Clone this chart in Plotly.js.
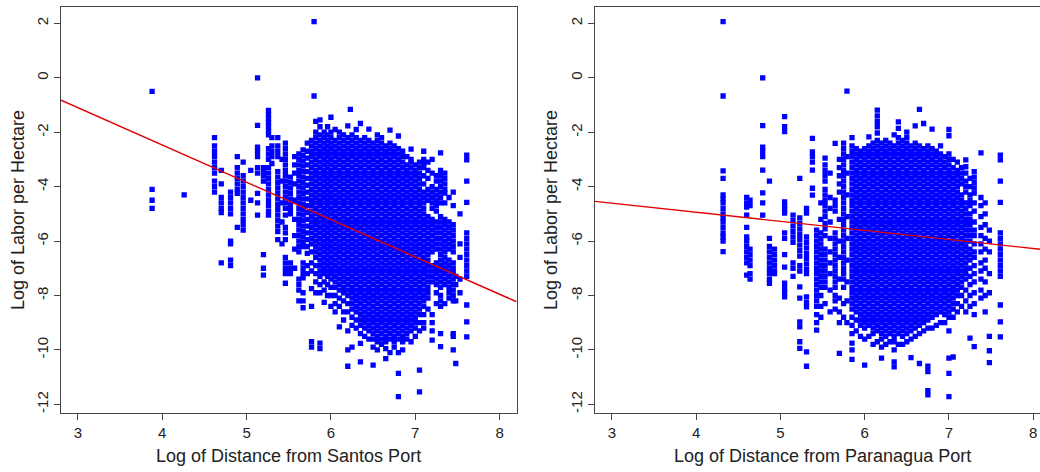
<!DOCTYPE html>
<html>
<head>
<meta charset="utf-8">
<script src="https://cdn.plot.ly/plotly-3.0.1.min.js"></script>
<style>
  html, body { margin: 0; padding: 0; background: #ffffff; }
  #chart { width: 1040px; height: 472px; }
</style>
</head>
<body>
<div id="chart"></div>
<script>
// ---------- DATA ----------
// Log of distance from Santos port: one value per vertical stripe of points
const santosDist = [3.88, 4.26, 4.62, 4.70, 4.81, 4.89, 4.96, 5.05, 5.13, 5.20, 5.26, 5.30, 5.37, 5.42, 5.46, 5.52,
  5.57, 5.62, 5.67, 5.72, 5.77, 5.80, 5.82, 5.87, 5.92, 5.96,
  6.00, 6.05, 6.10, 6.15, 6.20, 6.23, 6.25, 6.30, 6.35, 6.40, 6.45, 6.50, 6.55, 6.60, 6.65, 6.70, 6.75, 6.80, 6.85, 6.90, 6.95, 7.00, 7.05,
  7.10, 7.15, 7.20, 7.25, 7.30, 7.35, 7.40, 7.45, 7.48, 7.53, 7.61];
// Log of labor per hectare for each stripe above
const santosLabor = [
  [-0.5,-4.1,-4.5,-4.8],
  [-4.3],
  [-2.2,-2.5,-2.7,-2.9,-3.1,-3.3,-3.5,-3.8,-4,-4.2],
  [-3.4,-3.9,-4.4,-4.6,-4.8,-4.95,-6.8],
  [-4.2,-4.4,-4.6,-4.8,-5,-6,-6.1,-6.7,-6.9],
  [-2.9,-3.3,-3.5,-3.7,-3.9,-4.1,-4.25,-5.5],
  [-3.1,-3.6,-3.8,-4,-4.2,-4.4,-4.6,-4.8,-5,-5.2,-5.4,-5.6],
  [-3.4,-4.5],
  [0,-1.75,-2.55,-2.7,-2.9,-3.3,-3.5,-4.25,-4.6,-5.05],
  [-3.3,-3.45,-3.6,-3.8,-6.5,-7,-7.25],
  [-1.2,-1.35,-1.5,-1.65,-1.8,-1.95,-2.1,-2.6,-2.8,-3,-3.3,-3.5,-3.7,-3.9,-4.1,-4.3,-4.5,-4.7,-4.9,-5.05],
  [-2.2,-2.5,-2.7,-2.9,-3.15],
  [-2.2,-2.5,-2.7,-2.9,-3.45,-3.65,-3.85,-4.05,-4.25,-4.45,-4.65,-4.85,-5.05,-5.25,-5.45,-5.65,-5.95],
  [-3,-3.8,-4.6,-5.3,-6.1],
  [-2.4,-2.6,-2.8,-3,-3.2,-3.4,-3.6,-3.8,-4,-4.2,-4.4,-4.6,-4.8,-5.05,-5.5,-5.7,-5.95,-6.6,-6.8,-7,-7.2,-7.55],
  [-3.65,-3.85,-4.05,-4.25,-4.45,-4.65,-4.85,-5,-6.8,-7,-7.2],
  [-2.9,-3.2,-3.5,-3.9,-4.5,-5.2,-5.8,-6.3,-7],
  [-2.8,-3,-3.2,-3.4,-3.6,-3.8,-4,-4.2,-4.4,-4.6,-4.8,-5,-5.2,-5.4,-5.6,-5.8,-6,-6.2,-6.4,-7.4,-7.6,-7.8,-8.2],
  [-2.65,-2.85,-3.05,-3.25,-3.45,-3.65,-3.85,-4.05,-4.25,-4.45,-4.65,-4.85,-5.05,-5.25,-5.45,-5.65,-5.85,-6.05,-6.2,-6.8,-7,-7.2,-7.35,-7.9,-8.2,-8.45],
  [-2.4,-2.7,-2.95,-3.2,-3.45,-3.7,-3.95,-4.2,-4.45,-4.7,-4.95,-5.2,-5.45,-5.7,-5.95,-6.2,-6.45,-6.9,-7.2],
  [-2.3,-2.5,-2.7,-2.9,-3.1,-3.3,-3.5,-3.7,-3.9,-4.1,-4.3,-4.5,-4.7,-4.9,-5.1,-5.3,-5.5,-5.7,-5.9,-6.1,-6.4,-6.8,-7.1,-7.75,-8.4,-9.7,-9.9],
  [2.06,-0.67],
  [-1.6,-2,-2.2,-2.4,-2.6,-2.8,-3,-3.2,-3.4,-3.6,-3.8,-4,-4.2,-4.4,-4.6,-4.8,-5,-5.2,-5.4,-5.6,-5.8,-6,-6.2,-6.4,-6.6,-6.9,-7.2,-7.5,-7.9],
  [-1.55,-1.8,-2.1,-2.3,-2.5,-2.7,-2.9,-3.1,-3.3,-3.5,-3.7,-3.9,-4.1,-4.3,-4.5,-4.7,-4.9,-5.1,-5.3,-5.5,-5.7,-5.9,-6.1,-6.3,-6.5,-6.7,-6.9,-7.1,-7.3,-7.6,-7.9,-9.75,-9.95],
  [-2,-2.2,-2.4,-2.6,-2.8,-3,-3.2,-3.4,-3.6,-3.8,-4,-4.2,-4.4,-4.6,-4.8,-5,-5.2,-5.4,-5.6,-5.8,-6,-6.2,-6.4,-6.6,-6.8,-7,-7.2,-7.5,-7.8,-8.25],
  [-1.8,-2.1,-2.3,-2.5,-2.7,-2.9,-3.1,-3.3,-3.5,-3.7,-3.9,-4.1,-4.3,-4.5,-4.7,-4.9,-5.1,-5.3,-5.5,-5.7,-5.9,-6.1,-6.3,-6.5,-6.7,-6.9,-7.1,-7.3,-7.6,-8],
  [-1.45,-2,-2.2,-2.4,-2.6,-2.8,-3,-3.2,-3.4,-3.6,-3.8,-4,-4.2,-4.4,-4.6,-4.8,-5,-5.2,-5.4,-5.6,-5.8,-6,-6.2,-6.4,-6.6,-6.8,-7,-7.2,-7.4,-7.7,-8,-8.4],
  [-1.9,-2.3,-2.5,-2.7,-2.9,-3.1,-3.3,-3.5,-3.7,-3.9,-4.1,-4.3,-4.5,-4.7,-4.9,-5.1,-5.3,-5.5,-5.7,-5.9,-6.1,-6.3,-6.5,-6.7,-6.9,-7.1,-7.3,-7.5,-7.7,-8,-8.3,-8.6],
  [-2,-2.2,-2.4,-2.6,-2.8,-3,-3.2,-3.4,-3.6,-3.8,-4,-4.2,-4.4,-4.6,-4.8,-5,-5.2,-5.4,-5.6,-5.8,-6,-6.2,-6.4,-6.6,-6.8,-7,-7.2,-7.4,-7.6,-7.8,-8.1,-8.4,-9.15],
  [-2.1,-2.3,-2.5,-2.7,-2.9,-3.1,-3.3,-3.5,-3.7,-3.9,-4.1,-4.3,-4.5,-4.7,-4.9,-5.1,-5.3,-5.5,-5.7,-5.9,-6.1,-6.3,-6.5,-6.7,-6.9,-7.1,-7.3,-7.5,-7.7,-7.9,-8.2,-8.6,-8.9],
  [-1.77,-2.2,-2.4,-2.6,-2.8,-3,-3.2,-3.4,-3.6,-3.8,-4,-4.2,-4.4,-4.6,-4.8,-5,-5.2,-5.4,-5.6,-5.8,-6,-6.2,-6.4,-6.6,-6.8,-7,-7.2,-7.4,-7.6,-7.8,-8,-8.3,-8.6,-9.3,-10,-10.6],
  [-1.16],
  [-2.1,-2.3,-2.5,-2.7,-2.9,-3.1,-3.3,-3.5,-3.7,-3.9,-4.1,-4.3,-4.5,-4.7,-4.9,-5.1,-5.3,-5.5,-5.7,-5.9,-6.1,-6.3,-6.5,-6.7,-6.9,-7.1,-7.3,-7.5,-7.7,-7.9,-8.1,-8.3,-8.5,-8.8,-9.1,-9.9],
  [-1.9,-2.2,-2.4,-2.6,-2.8,-3,-3.2,-3.4,-3.6,-3.8,-4,-4.2,-4.4,-4.6,-4.8,-5,-5.2,-5.4,-5.6,-5.8,-6,-6.2,-6.4,-6.6,-6.8,-7,-7.2,-7.4,-7.6,-7.8,-8,-8.2,-8.4,-8.6,-8.9,-9.2],
  [-1.68,-2.3,-2.5,-2.7,-2.9,-3.1,-3.3,-3.5,-3.7,-3.9,-4.1,-4.3,-4.5,-4.7,-4.9,-5.1,-5.3,-5.5,-5.7,-5.9,-6.1,-6.3,-6.5,-6.7,-6.9,-7.1,-7.3,-7.5,-7.7,-7.9,-8.1,-8.3,-8.5,-8.7,-8.9,-9.1,-9.4,-9.76,-10.44],
  [-2.2,-2.4,-2.6,-2.8,-3,-3.2,-3.4,-3.6,-3.8,-4,-4.2,-4.4,-4.6,-4.8,-5,-5.2,-5.4,-5.6,-5.8,-6,-6.2,-6.4,-6.6,-6.8,-7,-7.2,-7.4,-7.6,-7.8,-8,-8.2,-8.4,-8.6,-8.8,-9,-9.2,-9.5],
  [-1.89,-2.3,-2.5,-2.7,-2.9,-3.1,-3.3,-3.5,-3.7,-3.9,-4.1,-4.3,-4.5,-4.7,-4.9,-5.1,-5.3,-5.5,-5.7,-5.9,-6.1,-6.3,-6.5,-6.7,-6.9,-7.1,-7.3,-7.5,-7.7,-7.9,-8.1,-8.3,-8.5,-8.7,-8.9,-9.1,-9.3,-9.6],
  [-2.4,-2.6,-2.8,-3,-3.2,-3.4,-3.6,-3.8,-4,-4.2,-4.4,-4.6,-4.8,-5,-5.2,-5.4,-5.6,-5.8,-6,-6.2,-6.4,-6.6,-6.8,-7,-7.2,-7.4,-7.6,-7.8,-8,-8.2,-8.4,-8.6,-8.8,-9,-9.2,-9.4,-9.6,-9.9,-10.56],
  [-2.1,-2.3,-2.5,-2.7,-2.9,-3.1,-3.3,-3.5,-3.7,-3.9,-4.1,-4.3,-4.5,-4.7,-4.9,-5.1,-5.3,-5.5,-5.7,-5.9,-6.1,-6.3,-6.5,-6.7,-6.9,-7.1,-7.3,-7.5,-7.7,-7.9,-8.1,-8.3,-8.5,-8.7,-8.9,-9.1,-9.3,-9.5,-9.7,-10],
  [-2.2,-2.4,-2.6,-2.8,-3,-3.2,-3.4,-3.6,-3.8,-4,-4.2,-4.4,-4.6,-4.8,-5,-5.2,-5.4,-5.6,-5.8,-6,-6.2,-6.4,-6.6,-6.8,-7,-7.2,-7.4,-7.6,-7.8,-8,-8.2,-8.4,-8.6,-8.8,-9,-9.2,-9.4,-9.6,-9.8],
  [-2.5,-2.7,-2.9,-3.1,-3.3,-3.5,-3.7,-3.9,-4.1,-4.3,-4.5,-4.7,-4.9,-5.1,-5.3,-5.5,-5.7,-5.9,-6.1,-6.3,-6.5,-6.7,-6.9,-7.1,-7.3,-7.5,-7.7,-7.9,-8.1,-8.3,-8.5,-8.7,-8.9,-9.1,-9.3,-9.5,-9.7,-9.95,-10.32],
  [-1.92,-2.4,-2.6,-2.8,-3,-3.2,-3.4,-3.6,-3.8,-4,-4.2,-4.4,-4.6,-4.8,-5,-5.2,-5.4,-5.6,-5.8,-6,-6.2,-6.4,-6.6,-6.8,-7,-7.2,-7.4,-7.6,-7.8,-8,-8.2,-8.4,-8.6,-8.8,-9,-9.2,-9.4,-9.6,-10.1],
  [-2.5,-2.7,-2.9,-3.1,-3.3,-3.5,-3.7,-3.9,-4.1,-4.3,-4.5,-4.7,-4.9,-5.1,-5.3,-5.5,-5.7,-5.9,-6.1,-6.3,-6.5,-6.7,-6.9,-7.1,-7.3,-7.5,-7.7,-7.9,-8.1,-8.3,-8.5,-8.7,-8.9,-9.1,-9.3,-9.5,-9.7,-9.9],
  [-2.14,-2.6,-2.8,-3,-3.2,-3.4,-3.6,-3.8,-4,-4.2,-4.4,-4.6,-4.8,-5,-5.2,-5.4,-5.6,-5.8,-6,-6.2,-6.4,-6.6,-6.8,-7,-7.2,-7.4,-7.6,-7.8,-8,-8.2,-8.4,-8.6,-8.8,-9,-9.2,-9.4,-9.6,-10.1,-10.86,-11.72],
  [-2.7,-2.9,-3.1,-3.3,-3.5,-3.7,-3.9,-4.1,-4.3,-4.5,-4.7,-4.9,-5.1,-5.3,-5.5,-5.7,-5.9,-6.1,-6.3,-6.5,-6.7,-6.9,-7.1,-7.3,-7.5,-7.7,-7.9,-8.1,-8.3,-8.5,-8.7,-8.9,-9.1,-9.3,-9.5,-9.7,-10],
  [-2.9,-3.2,-3.4,-3.6,-3.8,-4,-4.2,-4.4,-4.6,-4.8,-5,-5.2,-5.4,-5.6,-5.8,-6,-6.2,-6.4,-6.6,-6.8,-7,-7.2,-7.4,-7.6,-7.8,-8,-8.2,-8.4,-8.6,-8.8,-9,-9.2,-9.4,-9.6],
  [-2.62,-3,-3.1,-3.3,-3.5,-3.7,-3.9,-4.1,-4.3,-4.5,-4.7,-4.9,-5.1,-5.3,-5.5,-5.7,-5.9,-6.1,-6.3,-6.5,-6.7,-6.9,-7.1,-7.3,-7.5,-7.7,-7.9,-8.1,-8.3,-8.5,-8.7,-8.9,-9.1,-9.3,-9.7],
  [-3.2,-3.4,-3.6,-3.8,-4,-4.2,-4.4,-4.6,-4.8,-5,-5.2,-5.4,-5.6,-5.8,-6,-6.2,-6.4,-6.6,-6.8,-7,-7.2,-7.4,-7.6,-7.8,-8,-8.2,-8.4,-8.6,-8.8,-9,-9.2,-9.5],
  [-3.1,-3.3,-3.5,-3.7,-3.9,-4.1,-4.3,-4.5,-4.7,-4.9,-5.1,-5.3,-5.5,-5.7,-5.9,-6.1,-6.3,-6.5,-6.7,-6.9,-7.1,-7.3,-7.5,-7.7,-7.9,-8.1,-8.3,-8.5,-8.7,-9,-9.3,-10.74,-11.54],
  [-2.7,-3,-3.15,-3.3,-3.6,-3.9,-4.2,-4.4,-4.6,-4.8,-5,-5.2,-5.4,-5.6,-5.8,-6,-6.2,-6.4,-6.6,-6.8,-7,-7.2,-7.4,-7.6,-7.8,-8,-8.2,-8.4,-8.7,-9,-9.2],
  [-3.1,-3.4,-3.7,-4.1,-4.3,-4.5,-5.1,-5.3,-5.5,-5.7,-5.9,-6.1,-6.3,-6.5,-6.7,-6.9,-7.1,-7.3,-7.5,-7.7,-7.9,-8.1,-8.5],
  [-3,-3.5,-4,-4.2,-4.4,-4.6,-4.8,-5.2,-5.4,-5.6,-5.8,-6,-6.2,-6.4,-6.9,-7.1,-7.3,-7.5,-8.7,-9,-9.3,-9.64],
  [-3.6,-3.8,-4.1,-4.3,-4.5,-4.7,-4.9,-5.3,-5.5,-5.7,-5.9,-6.1,-6.3,-6.8,-7,-7.2,-7.4,-7.6,-7.9,-8.3],
  [-2.76,-3.4,-3.6,-3.8,-4,-4.2,-4.4,-4.6,-5.1,-5.3,-5.5,-5.7,-5.9,-6.1,-6.3,-6.5,-6.7,-6.9,-7.1,-7.3,-7.5,-7.7,-8,-8.2,-8.4,-9.4,-9.88],
  [-3.5,-3.7,-3.9,-4.1,-4.24,-4.6,-5.2,-5.4,-5.6,-5.8,-6,-6.2,-6.4,-6.6,-6.8,-7,-7.2,-7.4,-7.6,-8.3],
  [-4.4,-5.3,-5.5,-5.7,-5.9,-6.1,-6.3,-6.7,-6.9,-7.1,-7.3,-7.5,-7.7,-7.9,-8.1],
  [-4.2,-4.7,-5.4,-5.6,-5.8,-6,-6.2,-6.4,-6.8,-7,-7.2,-7.4,-7.6,-7.8,-8,-8.2,-9.4,-9.5,-10],
  [-7.3,-7.6,-8.2,-10.5],
  [-5,-6.1,-6.6,-7.4,-7.9],
  [-2.84,-3.02,-3.8,-4.58,-5.7,-5.9,-6.1,-6.3,-6.5,-6.7,-6.9,-7.1,-7.3,-8.35,-8.97,-9.52]
];

// Log of distance from Paranagua port: one value per vertical stripe of points
const paranaguaDist = [4.32, 4.60, 4.64, 4.79, 4.87, 4.93, 5.05, 5.15, 5.23, 5.31, 5.38, 5.43, 5.48, 5.53, 5.59, 5.65, 5.70, 5.75, 5.79,
  5.85, 5.90, 5.95, 6.00, 6.05, 6.10, 6.15, 6.20, 6.25, 6.30, 6.35, 6.40, 6.45, 6.50, 6.55, 6.60, 6.65, 6.70, 6.75, 6.80, 6.85, 6.90, 6.95, 7.00,
  7.05, 7.10, 7.15, 7.20, 7.25, 7.30, 7.38, 7.43, 7.48, 7.61];
// Log of labor per hectare for each stripe above
const paranaguaLabor = [
  [2.06,-0.67,-3.42,-3.7,-4.3,-4.45,-4.6,-4.8,-5,-5.15,-5.3,-5.5,-5.7,-5.85,-6,-6.39],
  [-4.4,-4.6,-4.75,-5.05,-5.5,-5.85,-6,-6.2,-6.4,-6.6,-6.8,-7.25],
  [-4.5,-4.7,-6.3,-6.5,-6.7,-6.9,-7.2,-7.4],
  [0,-1.76,-2.55,-2.7,-2.9,-3.39,-4.23,-4.6,-5.05],
  [-3.8,-5.9,-6.2,-6.4,-6.6,-6.8,-7,-7.2,-7.4,-7.55],
  [-6.3,-6.5,-6.7,-6.9,-7.1,-7.2],
  [-1.43,-1.8,-1.98,-4.56,-4.7,-4.85,-4.97,-5.7,-5.9,-6.5,-6.96,-7.55,-7.75,-7.9,-8.05],
  [-5.05,-5.25,-5.45,-5.65,-5.85,-6.05,-6.8,-7,-7.3],
  [-3.7,-5.15,-5.35,-5.55,-5.75,-5.95,-6.15,-6.35,-6.55,-6.9,-7.1,-7.68,-8.1,-8.97,-9.15,-9.7,-9.94],
  [-4.8,-4.97,-5.85,-6.05,-6.25,-6.45,-6.65,-6.85,-7.05,-7.2,-8.05,-8.25,-8.42,-10.07,-10.6],
  [-2.23,-2.72,-2.9,-3.1,-3.39,-4.06,-4.31],
  [-5.6,-5.8,-6,-6.2,-6.4,-6.6,-6.8,-7,-7.2,-7.4,-7.6,-7.8,-8,-8.2,-8.4,-8.7,-9,-9.27],
  [-4.6,-5.2,-5.7,-5.9,-6.1,-6.3,-6.5,-6.7,-6.9,-7.1,-7.3,-7.5,-7.7,-8,-8.4,-8.8],
  [-2.95,-3.2,-3.4,-3.6,-3.8,-4.1,-4.3,-4.5,-4.7,-4.9,-5.1,-5.35,-5.55,-5.8,-6.3,-6.5,-6.7,-6.9,-7.1,-7.3,-7.5,-7.7,-8.3],
  [-3.5,-4.4,-4.8,-5.3,-5.9,-6.4,-6.8,-7.2,-7.8,-8.6],
  [-2.41,-4.5,-4.7,-4.9,-5.7,-5.9,-6.1,-6.3,-6.5,-6.7,-6.9,-7.1,-7.3,-7.5,-7.7,-8,-8.2,-8.5],
  [-3,-3.3,-3.6,-3.9,-4.2,-5.2,-6,-6.6,-7.4,-8.1,-8.6,-9,-10.13],
  [-2.4,-2.6,-2.8,-3,-3.2,-3.4,-3.6,-3.8,-4,-4.2,-4.4,-4.6,-4.8,-5,-5.2,-5.4,-5.6,-5.8,-6,-6.2,-6.4,-6.6,-6.8,-7,-7.2,-7.4,-7.7,-8.3,-8.8],
  [-0.49,-2.9,-3.5,-4.3,-5.1,-5.9,-6.7,-7.5,-8.2,-9],
  [-2.2,-2.5,-2.7,-2.9,-3.1,-3.3,-3.5,-3.7,-3.9,-4.1,-4.3,-4.5,-4.7,-4.9,-5.1,-5.3,-5.5,-5.7,-5.9,-6.1,-6.3,-6.5,-6.7,-6.9,-7.1,-7.3,-7.5,-7.7,-7.9,-8.1,-8.3,-8.5,-8.8,-9.1,-9.4,-9.75,-10,-10.35],
  [-2.6,-2.8,-3,-3.2,-3.4,-3.6,-3.8,-4,-4.2,-4.4,-4.6,-4.8,-5,-5.2,-5.4,-5.6,-5.8,-6,-6.2,-6.4,-6.6,-6.8,-7,-7.2,-7.4,-7.6,-7.8,-8,-8.2,-8.4,-8.6,-8.9,-9.3],
  [-2.7,-2.9,-3.1,-3.3,-3.5,-3.7,-3.9,-4.1,-4.3,-4.5,-4.7,-4.9,-5.1,-5.3,-5.5,-5.7,-5.9,-6.1,-6.3,-6.5,-6.7,-6.9,-7.1,-7.3,-7.5,-7.7,-7.9,-8.1,-8.3,-8.5,-8.7,-8.9,-9.1,-9.5],
  [-2.6,-2.8,-3,-3.2,-3.4,-3.6,-3.8,-4,-4.2,-4.4,-4.6,-4.8,-5,-5.2,-5.4,-5.6,-5.8,-6,-6.2,-6.4,-6.6,-6.8,-7,-7.2,-7.4,-7.6,-7.8,-8,-8.2,-8.4,-8.6,-8.8,-9,-9.2,-9.6,-10.56],
  [-2.17,-2.5,-2.7,-2.9,-3.1,-3.3,-3.5,-3.7,-3.9,-4.1,-4.3,-4.5,-4.7,-4.9,-5.1,-5.3,-5.5,-5.7,-5.9,-6.1,-6.3,-6.5,-6.7,-6.9,-7.1,-7.3,-7.5,-7.7,-7.9,-8.1,-8.3,-8.5,-8.7,-8.9,-9.1,-9.5],
  [-2.4,-2.6,-2.8,-3,-3.2,-3.4,-3.6,-3.8,-4,-4.2,-4.4,-4.6,-4.8,-5,-5.2,-5.4,-5.6,-5.8,-6,-6.2,-6.4,-6.6,-6.8,-7,-7.2,-7.4,-7.6,-7.8,-8,-8.2,-8.4,-8.6,-8.8,-9,-9.2,-9.4,-9.8],
  [-1.19,-1.4,-1.6,-1.8,-2.03,-2.3,-2.5,-2.7,-2.9,-3.1,-3.3,-3.5,-3.7,-3.9,-4.1,-4.3,-4.5,-4.7,-4.9,-5.1,-5.3,-5.5,-5.7,-5.9,-6.1,-6.3,-6.5,-6.7,-6.9,-7.1,-7.3,-7.5,-7.7,-7.9,-8.1,-8.3,-8.5,-8.7,-8.9,-9.1,-9.3,-9.7],
  [-2.4,-2.6,-2.8,-3,-3.2,-3.4,-3.6,-3.8,-4,-4.2,-4.4,-4.6,-4.8,-5,-5.2,-5.4,-5.6,-5.8,-6,-6.2,-6.4,-6.6,-6.8,-7,-7.2,-7.4,-7.6,-7.8,-8,-8.2,-8.4,-8.6,-8.8,-9,-9.2,-9.4,-9.6,-9.9,-10.3],
  [-2.3,-2.5,-2.7,-2.9,-3.1,-3.3,-3.5,-3.7,-3.9,-4.1,-4.3,-4.5,-4.7,-4.9,-5.1,-5.3,-5.5,-5.7,-5.9,-6.1,-6.3,-6.5,-6.7,-6.9,-7.1,-7.3,-7.5,-7.7,-7.9,-8.1,-8.3,-8.5,-8.7,-8.9,-9.1,-9.3,-9.5,-9.8],
  [-2.4,-2.6,-2.8,-3,-3.2,-3.4,-3.6,-3.8,-4,-4.2,-4.4,-4.6,-4.8,-5,-5.2,-5.4,-5.6,-5.8,-6,-6.2,-6.4,-6.6,-6.8,-7,-7.2,-7.4,-7.6,-7.8,-8,-8.2,-8.4,-8.6,-8.8,-9,-9.2,-9.4,-9.7],
  [-2.1,-2.5,-2.7,-2.9,-3.1,-3.3,-3.5,-3.7,-3.9,-4.1,-4.3,-4.5,-4.7,-4.9,-5.1,-5.3,-5.5,-5.7,-5.9,-6.1,-6.3,-6.5,-6.7,-6.9,-7.1,-7.3,-7.5,-7.7,-7.9,-8.1,-8.3,-8.5,-8.7,-8.9,-9.1,-9.3,-9.5,-9.7,-10,-10.44,-10.62],
  [-1.62,-1.86,-2.2,-2.4,-2.6,-2.8,-3,-3.2,-3.4,-3.6,-3.8,-4,-4.2,-4.4,-4.6,-4.8,-5,-5.2,-5.4,-5.6,-5.8,-6,-6.2,-6.4,-6.6,-6.8,-7,-7.2,-7.4,-7.6,-7.8,-8,-8.2,-8.4,-8.6,-8.8,-9,-9.2,-9.4,-9.8],
  [-2.3,-2.5,-2.7,-2.9,-3.1,-3.3,-3.5,-3.7,-3.9,-4.1,-4.3,-4.5,-4.7,-4.9,-5.1,-5.3,-5.5,-5.7,-5.9,-6.1,-6.3,-6.5,-6.7,-6.9,-7.1,-7.3,-7.5,-7.7,-7.9,-8.1,-8.3,-8.5,-8.7,-8.9,-9.1,-9.3,-9.5,-9.8],
  [-2,-2.2,-2.4,-2.6,-2.8,-3,-3.2,-3.4,-3.6,-3.8,-4,-4.2,-4.4,-4.6,-4.8,-5,-5.2,-5.4,-5.6,-5.8,-6,-6.2,-6.4,-6.6,-6.8,-7,-7.2,-7.4,-7.6,-7.8,-8,-8.2,-8.4,-8.6,-8.8,-9,-9.2,-9.4,-9.7],
  [-2.5,-2.7,-2.9,-3.1,-3.3,-3.5,-3.7,-3.9,-4.1,-4.3,-4.5,-4.7,-4.9,-5.1,-5.3,-5.5,-5.7,-5.9,-6.1,-6.3,-6.5,-6.7,-6.9,-7.1,-7.3,-7.5,-7.7,-7.9,-8.1,-8.3,-8.5,-8.7,-8.9,-9.1,-9.3,-9.6,-10.28],
  [-1.77,-2.4,-2.6,-2.8,-3,-3.2,-3.4,-3.6,-3.8,-4,-4.2,-4.4,-4.6,-4.8,-5,-5.2,-5.4,-5.6,-5.8,-6,-6.2,-6.4,-6.6,-6.8,-7,-7.2,-7.4,-7.6,-7.8,-8,-8.2,-8.4,-8.6,-8.8,-9,-9.2,-9.5],
  [-1.16,-2.5,-2.7,-2.9,-3.1,-3.3,-3.5,-3.7,-3.9,-4.1,-4.3,-4.5,-4.7,-4.9,-5.1,-5.3,-5.5,-5.7,-5.9,-6.1,-6.3,-6.5,-6.7,-6.9,-7.1,-7.3,-7.5,-7.7,-7.9,-8.1,-8.3,-8.5,-8.7,-8.9,-9.1,-9.4,-10.5],
  [-1.68,-2.6,-2.8,-3,-3.2,-3.4,-3.6,-3.8,-4,-4.2,-4.4,-4.6,-4.8,-5,-5.2,-5.4,-5.6,-5.8,-6,-6.2,-6.4,-6.6,-6.8,-7,-7.2,-7.4,-7.6,-7.8,-8,-8.2,-8.4,-8.6,-8.8,-9,-9.3],
  [-2.5,-2.7,-2.9,-3.1,-3.3,-3.5,-3.7,-3.9,-4.1,-4.3,-4.5,-4.7,-4.9,-5.1,-5.3,-5.5,-5.7,-5.9,-6.1,-6.3,-6.5,-6.7,-6.9,-7.1,-7.3,-7.5,-7.7,-7.9,-8.1,-8.3,-8.5,-8.7,-8.9,-9.2,-10.6,-10.8,-11.5,-11.65],
  [-1.89,-2.6,-2.8,-3,-3.2,-3.4,-3.6,-3.8,-4,-4.2,-4.4,-4.6,-4.8,-5,-5.2,-5.4,-5.6,-5.8,-6,-6.2,-6.4,-6.6,-6.8,-7,-7.2,-7.4,-7.6,-7.8,-8,-8.2,-8.4,-8.6,-8.8,-9.2],
  [-2.7,-2.9,-3.1,-3.3,-3.5,-3.7,-3.9,-4.1,-4.3,-4.5,-4.7,-4.9,-5.1,-5.3,-5.5,-5.7,-5.9,-6.1,-6.3,-6.5,-6.7,-6.9,-7.1,-7.3,-7.5,-7.7,-7.9,-8.1,-8.3,-8.5,-8.7,-9.1],
  [-2.5,-2.8,-3,-3.2,-3.4,-3.6,-3.8,-4,-4.2,-4.4,-4.6,-4.8,-5,-5.2,-5.4,-5.6,-5.8,-6,-6.2,-6.4,-6.6,-6.8,-7,-7.2,-7.4,-7.6,-7.8,-8,-8.2,-8.4,-8.6,-9],
  [-2.9,-3.1,-3.3,-3.5,-3.7,-3.9,-4.1,-4.3,-4.5,-4.7,-4.9,-5.1,-5.3,-5.5,-5.7,-5.9,-6.1,-6.3,-6.5,-6.7,-6.9,-7.1,-7.3,-7.5,-7.7,-7.9,-8.1,-8.3,-8.5,-8.7,-9],
  [-1.9,-2.13,-2.8,-3,-3.2,-3.4,-3.6,-3.8,-4,-4.2,-4.4,-4.6,-4.8,-5,-5.2,-5.4,-5.6,-5.8,-6,-6.2,-6.4,-6.6,-6.8,-7,-7.2,-7.4,-7.6,-7.8,-8,-8.2,-8.4,-8.6,-8.8,-9.3,-10.3,-10.86,-11.72],
  [-3,-3.3,-3.5,-3.7,-3.9,-4.1,-4.3,-4.5,-4.7,-4.9,-5.1,-5.3,-5.5,-5.7,-5.9,-6.1,-6.3,-6.5,-6.7,-6.9,-7.1,-7.3,-7.5,-7.7,-7.9,-8.1,-8.3,-8.5,-8.8,-10.26],
  [-3.1,-3.4,-3.6,-3.8,-4,-4.2,-4.4,-4.6,-4.8,-5,-5.2,-5.4,-5.6,-5.8,-6,-6.2,-6.4,-6.6,-6.8,-7,-7.2,-7.4,-7.6,-7.8,-8,-8.3,-8.6],
  [-3.3,-3.5,-3.7,-3.9,-4.3,-4.5,-4.7,-4.9,-5.1,-5.3,-5.5,-5.7,-5.9,-6.1,-6.3,-6.5,-6.7,-6.9,-7.1,-7.3,-7.5,-7.7,-8,-8.4],
  [-3.02,-3.27,-3.5,-3.8,-4,-4.2,-4.6,-4.8,-5,-5.2,-5.4,-5.6,-5.8,-6,-6.2,-6.4,-6.6,-6.8,-7,-7.2,-7.4,-7.8,-8.2,-8.6],
  [-3.7,-4,-4.3,-4.5,-4.7,-5,-5.2,-5.4,-5.6,-5.8,-6,-6.3,-6.5,-6.7,-7,-7.3,-7.6,-8,-8.4,-9.57],
  [-3.45,-3.65,-3.85,-4.05,-4.24,-4.6,-4.9,-5.3,-5.6,-5.8,-6.1,-6.4,-6.6,-6.9,-7.2,-7.5,-7.9,-8.3,-8.7,-9.88],
  [-2.76,-4.4,-4.7,-5.1,-5.5,-5.8,-6.1,-6.4,-6.8,-7.1,-7.4,-7.8,-8.1],
  [-4.6,-5,-5.4,-5.9,-6.3,-6.7,-7,-7.5,-8,-8.6],
  [-5.6,-6,-6.4,-7.2,-7.9,-9.5,-10.03,-10.47],
  [-2.84,-3.02,-3.8,-4.58,-5.7,-5.9,-6.1,-6.3,-6.5,-6.7,-6.9,-7.1,-7.3,-8.35,-8.97,-9.52]
];

// Fitted regression lines: [intercept, slope]
const santosFit = [3.02, -1.372];
const paranaguaFit = [-3.61, -0.333];

// Axis tick values
const xTicks = [3, 4, 5, 6, 7, 8];
const yTicks = [2, 0, -2, -4, -6, -8, -10, -12];

// Axis titles
const xTitleLeft = "Log of Distance from Santos Port";
const xTitleRight = "Log of Distance from Paranagua Port";
const yTitle = "Log of Labor per Hectare";

// ---------- BUILD ----------
function flatten(xs, ys) {
  const X = [], Y = [];
  xs.forEach((x, i) => ys[i].forEach(v => { X.push(x); Y.push(v); }));
  return { X, Y };
}
const L = flatten(santosDist, santosLabor);
const R = flatten(paranaguaDist, paranaguaLabor);

const W = 1040, H = 472;
const leftBox = [61, 516.5];
const rightBox = [595, 1040];
const yBox = [7.3, 412.5];   // top, bottom in px

const xRangeL = [2.8, 8.2];
const xRangeR = [2.8, 3 + (1040 - 611.7) / 84.3];
const yRange = [-12.30, 2.59];

const marker = { symbol: 'square', size: 5.3, color: '#0000ff', line: { width: 0 } };
const lineStyle = { color: '#e00000', width: 1.4 };

const traces = [
  { type: 'scatter', mode: 'markers', x: L.X, y: L.Y, xaxis: 'x', yaxis: 'y', marker: marker, hoverinfo: 'skip' },
  { type: 'scatter', mode: 'lines', x: xRangeL, y: xRangeL.map(v => santosFit[0] + santosFit[1] * v),
    xaxis: 'x', yaxis: 'y', line: lineStyle, hoverinfo: 'skip' },
  { type: 'scatter', mode: 'markers', x: R.X, y: R.Y, xaxis: 'x2', yaxis: 'y2', marker: marker, hoverinfo: 'skip' },
  { type: 'scatter', mode: 'lines', x: xRangeR, y: xRangeR.map(v => paranaguaFit[0] + paranaguaFit[1] * v),
    xaxis: 'x2', yaxis: 'y2', line: lineStyle, hoverinfo: 'skip' }
];

const font = { family: '"Liberation Sans", Arial, sans-serif', color: '#222222' };
const tickFont = { family: font.family, size: 15, color: '#222222' };

function xAxis(domainPx, range) {
  return {
    domain: [domainPx[0] / W, domainPx[1] / W], range: range, fixedrange: true,
    showgrid: false, zeroline: false, showline: true, mirror: true, linecolor: '#444444', linewidth: 1,
    ticks: 'outside', ticklen: 6, tickwidth: 1, tickcolor: '#444444',
    tickmode: 'array', tickvals: xTicks, ticktext: xTicks.map(String), tickfont: tickFont
  };
}
function yAxis(anchor, mirror) {
  return {
    anchor: anchor, domain: [1 - yBox[1] / H, 1 - yBox[0] / H], range: yRange, fixedrange: true,
    showgrid: false, zeroline: false, showline: true, mirror: mirror, linecolor: '#444444', linewidth: 1,
    ticks: 'outside', ticklen: 6, tickwidth: 1, tickcolor: '#444444',
    tickmode: 'array', tickvals: yTicks, ticktext: yTicks.map(String), tickfont: tickFont, tickangle: -90
  };
}

const annFont = { family: font.family, size: 18, color: '#222222' };
const layout = {
  width: W, height: H,
  margin: { l: 0, r: 0, t: 0, b: 0, pad: 0 },
  paper_bgcolor: '#ffffff', plot_bgcolor: '#ffffff',
  showlegend: false, font: font,
  xaxis: Object.assign(xAxis(leftBox, xRangeL), { anchor: 'y' }),
  yaxis: yAxis('x', true),
  xaxis2: Object.assign(xAxis(rightBox, xRangeR), { anchor: 'y2' }),
  yaxis2: yAxis('x2', false),
  annotations: [
    { text: xTitleLeft, xref: 'paper', yref: 'paper', x: 288.8 / W, y: 1 - 456 / H, xanchor: 'center', yanchor: 'middle', showarrow: false, font: annFont },
    { text: xTitleRight, xref: 'paper', yref: 'paper', x: 822.5 / W, y: 1 - 456 / H, xanchor: 'center', yanchor: 'middle', showarrow: false, font: annFont },
    { text: yTitle, xref: 'paper', yref: 'paper', x: 18 / W, y: 1 - 210 / H, xanchor: 'center', yanchor: 'middle', textangle: -90, showarrow: false, font: annFont },
    { text: yTitle, xref: 'paper', yref: 'paper', x: 551 / W, y: 1 - 210 / H, xanchor: 'center', yanchor: 'middle', textangle: -90, showarrow: false, font: annFont }
  ]
};

Plotly.newPlot('chart', traces, layout, { displayModeBar: false, staticPlot: true });
</script>
</body>
</html>
